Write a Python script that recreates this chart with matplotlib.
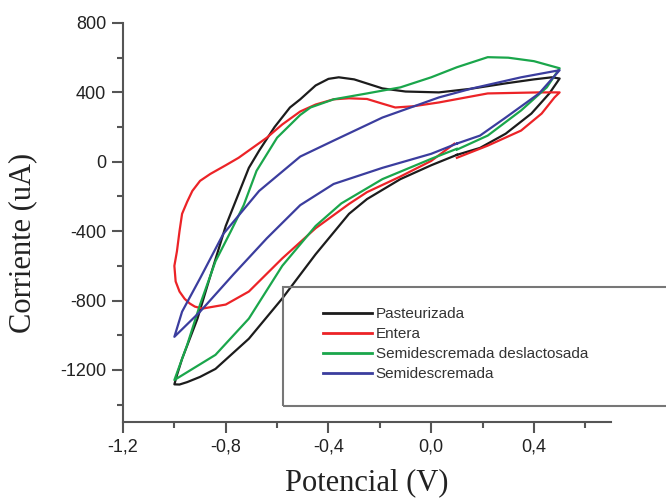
import matplotlib.pyplot as plt
from matplotlib.patches import Rectangle
from matplotlib.ticker import MultipleLocator, FuncFormatter

plt.rcParams['axes.unicode_minus'] = False

# cyclic voltammetry loops, potential in V, current in uA
pasteurizada_v = [0.10, 0.19, 0.29, 0.39, 0.46, 0.50, 0.47, 0.40, 0.29, 0.15, 0.03, -0.10, -0.19, -0.30, -0.36,
                  -0.40, -0.45, -0.51, -0.55, -0.61, -0.67, -0.71, -0.80, -0.87, -0.91, -0.97, -0.99, -1.00,
                  -0.98, -0.95, -0.90, -0.84, -0.71, -0.58, -0.45, -0.32, -0.25, -0.12, 0.00, 0.10]
pasteurizada_i = [40, 80, 162, 278, 394, 480, 487, 475, 452, 420, 400, 405, 423, 475, 487,
                  478, 440, 360, 313, 200, 64, -35, -370, -707, -904, -1136, -1230, -1283,
                  -1284, -1270, -1240, -1194, -1020, -788, -533, -300, -215, -100, -20, 40]

entera_v = [0.10, 0.22, 0.35, 0.43, 0.48, 0.50, 0.42, 0.22, 0.03, -0.07, -0.14, -0.19, -0.25, -0.32, -0.38,
            -0.45, -0.51, -0.58, -0.64, -0.75, -0.80, -0.86, -0.90, -0.93, -0.95, -0.97, -0.98, -0.99,
            -1.00, -0.995, -0.98, -0.96, -0.94, -0.92, -0.89, -0.80, -0.71, -0.58, -0.45, -0.32, -0.25,
            -0.12, 0.00, 0.09]
entera_i = [23, 93, 180, 278, 371, 400, 400, 394, 342, 320, 313, 335, 362, 366, 360,
            330, 290, 215, 139, 23, -20, -70, -110, -168, -230, -300, -400, -516,
            -600, -690, -748, -790, -817, -835, -846, -823, -748, -557, -383, -243, -175,
            -85, 5, 104]

deslactosada_v = [0.10, 0.22, 0.35, 0.45, 0.50, 0.40, 0.30, 0.22, 0.10, 0.00, -0.12, -0.25, -0.38, -0.47,
                  -0.51, -0.60, -0.68, -0.73, -0.78, -0.84, -0.90, -0.95, -1.00,
                  -0.84, -0.71, -0.58, -0.45, -0.35, -0.19, 0.00, 0.10]
deslactosada_i = [70, 151, 296, 429, 539, 580, 600, 603, 545, 487, 429, 394, 360, 313,
                  270, 139, -52, -250, -400, -574, -823, -1055, -1258,
                  -1113, -904, -600, -370, -240, -100, 17, 75]

semidescremada_v = [0.10, 0.19, 0.29, 0.42, 0.50, 0.35, 0.16, 0.03, -0.19, -0.38, -0.51, -0.67, -0.81, -0.90,
                    -0.97, -1.00, -0.90, -0.77, -0.64, -0.51, -0.38, -0.19, 0.00, 0.10]
semidescremada_i = [105, 151, 255, 394, 528, 487, 423, 371, 255, 122, 30, -168, -417, -672,
                    -864, -1009, -864, -649, -441, -250, -128, -35, 46, 105]

labels = ['Pasteurizada', 'Entera', 'Semidescremada deslactosada', 'Semidescremada']
colors = ['#1c1c1c', '#ec2327', '#1aa64b', '#3b3d9e']

fig = plt.figure(figsize=(6.66, 4.99), dpi=100)
ax = fig.add_axes([123 / 666, 1 - 422 / 499, 488 / 666, 399 / 499])

series = [(pasteurizada_v, pasteurizada_i), (entera_v, entera_i),
          (deslactosada_v, deslactosada_i), (semidescremada_v, semidescremada_i)]
for (v, i), lab, c in zip(series, labels, colors):
    ax.plot(v, i, color=c, lw=1.6, label=lab, solid_joinstyle='round')

ax.set_xlim(-1.2, 0.7)
ax.set_ylim(-1500, 800)
ax.xaxis.set_major_locator(MultipleLocator(0.4))
ax.xaxis.set_minor_locator(MultipleLocator(0.2))
ax.yaxis.set_major_locator(MultipleLocator(400))
ax.yaxis.set_minor_locator(MultipleLocator(200))
ax.xaxis.set_major_formatter(FuncFormatter(lambda x, p: f'{x:.1f}'.replace('.', ',').replace('-0,0', '0,0')))

for s in ['top', 'right']:
    ax.spines[s].set_visible(False)
for s in ['left', 'bottom']:
    ax.spines[s].set_color('#555555')
    ax.spines[s].set_linewidth(1.5)

ax.tick_params(which='major', direction='out', length=8, width=1.5, color='#555555',
               labelsize=13, labelcolor='#222222', pad=4)
ax.tick_params(which='minor', direction='out', length=4, width=1.5, color='#555555')
for t in ax.get_xticklabels() + ax.get_yticklabels():
    t.set_fontfamily('Liberation Sans')

ax.set_xlabel('Potencial (V)', fontsize=22, family='Liberation Serif', color='#222222')
ax.set_ylabel('Corriente (uA)', fontsize=22, family='Liberation Serif', color='#222222')
ax.xaxis.set_label_coords(0.5, -0.115)
ax.yaxis.set_label_coords(-0.175, 0.449)

# legend box runs past the right edge
fig.add_artist(Rectangle((283 / 666, 1 - 406 / 499), 400 / 666, 119 / 499,
                         transform=fig.transFigure, fill=False, ec='#777777', lw=1.5, clip_on=False))
leg = ax.legend(loc='upper left', bbox_to_anchor=(323 / 666, 1 - 307 / 499), bbox_transform=fig.transFigure,
                frameon=False, borderpad=0, borderaxespad=0, handlelength=3.2, handletextpad=0.25,
                labelspacing=0.4, prop={'family': 'Liberation Sans', 'size': 11})
for t in leg.get_texts():
    t.set_color('#333333')
for h in leg.get_lines():
    h.set_linewidth(2)

fig.savefig('out.png', dpi=100)
